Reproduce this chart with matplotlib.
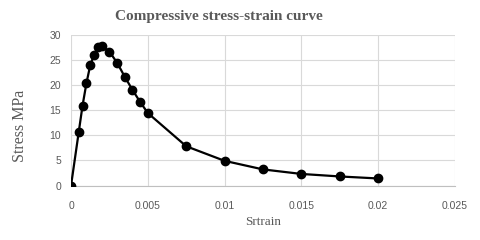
import matplotlib
matplotlib.use('Agg')
import matplotlib.pyplot as plt

strain = [0, 0.0005, 0.00075, 0.001, 0.00125, 0.0015, 0.00175, 0.002, 0.0025,
          0.003, 0.0035, 0.004, 0.0045, 0.005, 0.0075, 0.01, 0.0125, 0.015,
          0.0175, 0.02]
stress = [0, 10.6, 15.9, 20.3, 23.9, 26.0, 27.5, 27.7, 26.6,
          24.4, 21.6, 19.0, 16.6, 14.4, 7.8, 4.9, 3.2, 2.3,
          1.8, 1.4]
xticks = [0, 0.005, 0.01, 0.015, 0.02, 0.025]
xticklabels = ['0', '0.005', '0.01', '0.015', '0.02', '0.025']
yticks = [0, 5, 10, 15, 20, 25, 30]

fig = plt.figure(figsize=(4.8, 2.4), dpi=100)
ax = fig.add_axes([0.148, 0.227, 0.8, 0.629])

ax.plot(strain, stress, color='black', lw=1.6, marker='o', ms=6, zorder=3)

ax.set_xlim(0, 0.025)
ax.set_ylim(0, 30)
ax.set_xticks(xticks)
ax.set_xticklabels(xticklabels)
ax.set_yticks(yticks)
ax.grid(True, color='#d9d9d9', lw=0.8)
ax.set_axisbelow(True)
for s in ['top', 'right', 'left']:
    ax.spines[s].set_visible(False)
ax.spines['bottom'].set_color('#bfbfbf')
ax.tick_params(length=0, labelsize=7.5, labelcolor='#595959')
ax.tick_params(axis='x', pad=11)
ax.tick_params(axis='y', pad=7)
for lbl in ax.get_xticklabels() + ax.get_yticklabels():
    lbl.set_family('Liberation Sans')

serif = 'Liberation Serif'
fig.text(0.455, 0.93, 'Compressive stress-strain curve', ha='center', va='center',
         family=serif, fontsize=11, fontweight='bold', color='#595959')
fig.text(0.548, 1 - 222 / 240, 'Srtrain', ha='center', va='center',
         family=serif, fontsize=9.5, color='#595959')
fig.text(20 / 480, 1 - 126 / 240, 'Stress MPa', ha='center', va='center', rotation=90,
         family=serif, fontsize=11.5, color='#595959')

fig.savefig('out.png', dpi=100)
